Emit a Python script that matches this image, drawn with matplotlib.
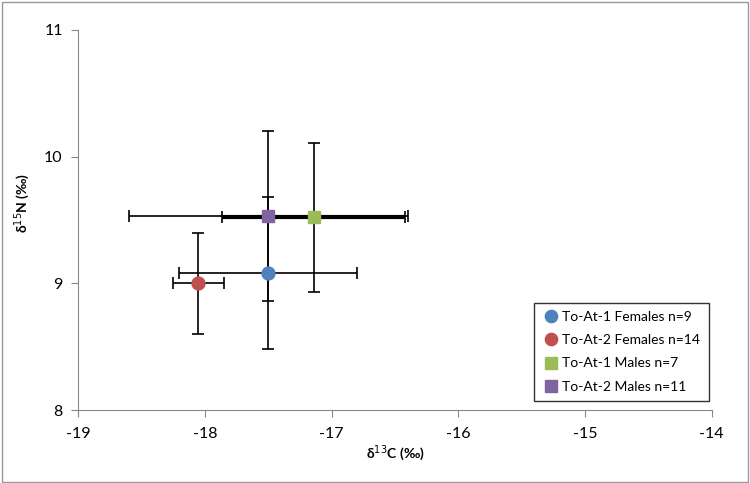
import matplotlib.pyplot as plt
from matplotlib.patches import Rectangle

plt.rcParams['font.family'] = ['Lato', 'DejaVu Sans']
plt.rcParams['axes.unicode_minus'] = False

labels = ['To-At-1 Females n=9', 'To-At-2 Females n=14',
          'To-At-1 Males n=7', 'To-At-2 Males n=11']
colors = ['#4F81BD', '#C0504D', '#9BBB59', '#8064A2']
markers = ['o', 'o', 's', 's']
d13c = [-17.50, -18.05, -17.14, -17.50]
d15n = [9.08, 9.00, 9.52, 9.53]
sd_c = [0.70, 0.20, 0.72, 1.10]
sd_n = [0.60, 0.40, 0.59, 0.67]

fig = plt.figure(figsize=(7.5, 4.83), dpi=100)
ax = fig.add_axes([0.104, 0.151, 0.845, 0.787])

for i in range(len(labels)):
    lw = 3.0 if i == 2 else 1.2
    ax.errorbar(d13c[i], d15n[i], xerr=sd_c[i], fmt='none', ecolor='black',
                elinewidth=lw, capsize=4, capthick=1.2, zorder=2)
    ax.errorbar(d13c[i], d15n[i], yerr=sd_n[i], fmt='none', ecolor='black',
                elinewidth=1.2, capsize=4, capthick=1.2, zorder=2)
for i in range(len(labels)):
    ax.plot(d13c[i], d15n[i], marker=markers[i], color=colors[i],
            markersize=9.3 if markers[i] == 'o' else 9, linestyle='none',
            label=labels[i], zorder=3)

ax.set_xlim(-19, -14)
ax.set_ylim(8, 11)
ax.set_xticks(range(-19, -13))
ax.set_yticks(range(8, 12))
for s in ['top', 'right']:
    ax.spines[s].set_visible(False)
for s in ['left', 'bottom']:
    ax.spines[s].set_color('#888888')
ax.tick_params(colors='#888888', labelcolor='black', labelsize=11.5,
               direction='out', length=5)
ax.tick_params(axis='x', pad=7)
ax.tick_params(axis='y', pad=6)

fig.text(0.527, 0.062, 'δ$^{13}$C (‰)', fontsize=10, fontweight='bold',
         ha='center', va='center')
fig.text(0.03, 0.58, 'δ$^{15}$N (‰)', fontsize=10, fontweight='bold',
         ha='center', va='center', rotation=90)

leg = ax.legend(loc='lower right', bbox_to_anchor=(0.945, 0.170),
                bbox_transform=fig.transFigure, borderaxespad=0, fontsize=10,
                frameon=True, fancybox=False, edgecolor='black',
                handletextpad=0.15, handlelength=1.3, borderpad=0.6,
                labelspacing=0.8, markerscale=0.95)
leg.get_frame().set_linewidth(1.0)

fig.patches.append(Rectangle((0.002, 0.003), 0.995, 0.993, transform=fig.transFigure,
                             fill=False, edgecolor='#999999', linewidth=1))

fig.savefig('out.png', dpi=100)
